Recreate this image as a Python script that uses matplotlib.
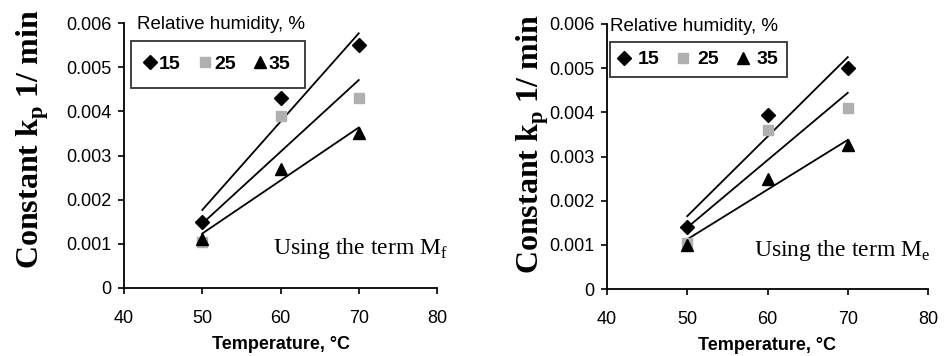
import numpy as np
import matplotlib
matplotlib.use('Agg')
from matplotlib import pyplot as plt

# data
temps = [50, 60, 70]
humidity = ['15', '25', '35']
kp_mf = {'15': [0.0015, 0.0043, 0.0055],
         '25': [0.00105, 0.0039, 0.0043],
         '35': [0.0011, 0.0027, 0.0035]}
kp_me = {'15': [0.0014, 0.00395, 0.0050],
         '25': [0.00105, 0.0036, 0.0041],
         '35': [0.0010, 0.0025, 0.00325]}
xticks = [40, 50, 60, 70, 80]
yticks = [0, 0.001, 0.002, 0.003, 0.004, 0.005, 0.006]
ytick_labels = ['0', '0.001', '0.002', '0.003', '0.004', '0.005', '0.006']

markers = {'15': 'D', '25': 's', '35': '^'}
mcolors = {'15': 'black', '25': '#b0b0b0', '35': 'black'}
msizes = {'15': 7, '25': 7, '35': 8}

sans = 'Liberation Sans'
serif = 'Liberation Serif'

fig = plt.figure(figsize=(9.44, 3.56), dpi=100)
W, H = 944.0, 356.0
# axes boxes in pixels: left, top, right, bottom
boxes = [(124, 23, 437, 288), (607, 24, 928, 289)]
panels = [(kp_mf, 'f'), (kp_me, 'e')]


def draw_panel(ax, data, sub, leg_box, colsp, tpad, bpad, title_xy, note_xy, ylab_xy):
    for h in humidity:
        y = data[h]
        ax.plot(temps, y, linestyle='none', marker=markers[h], color=mcolors[h],
                markersize=msizes[h], label=h, zorder=3)
        # linear trend line
        p = np.polyfit(temps, y, 1)
        xx = np.array([temps[0], temps[-1]])
        ax.plot(xx, np.polyval(p, xx), color='black', lw=1.3, zorder=2)

    ax.set_xlim(40, 80)
    ax.set_ylim(0, 0.006)
    ax.set_xticks(xticks)
    ax.set_yticks(yticks)
    ax.set_yticklabels(ytick_labels)
    ax.spines['top'].set_visible(False)
    ax.spines['right'].set_visible(False)
    ax.spines['left'].set_linewidth(1.3)
    ax.spines['bottom'].set_linewidth(1.3)
    ax.tick_params(direction='out', length=4, width=1.2, labelsize=13)
    for t in ax.get_xticklabels() + ax.get_yticklabels():
        t.set_fontfamily(sans)
    ax.tick_params(axis='x', pad=12)
    ax.tick_params(axis='y', pad=5)

    ax.set_xlabel('Temperature, \u00b0C', fontfamily=sans, fontweight='bold',
                  fontsize=13, labelpad=6)
    yl = ax.set_ylabel(r'Constant k$_\mathregular{p}$ 1/ min', fontfamily=serif,
                       fontweight='bold', fontsize=23)
    yl.set_va('center')
    ax.yaxis.set_label_coords(ylab_xy[0], ylab_xy[1])

    leg = ax.legend(loc='upper left', bbox_to_anchor=leg_box, ncol=3,
                    frameon=True, fancybox=False, handlelength=0.5,
                    handletextpad=tpad, columnspacing=colsp, borderpad=bpad,
                    borderaxespad=0,
                    prop={'family': sans, 'weight': 'bold', 'size': 14})
    leg.get_frame().set_edgecolor('black')
    leg.get_frame().set_linewidth(1.3)

    ax.text(title_xy[0], title_xy[1], 'Relative humidity, %', transform=ax.transAxes,
            fontfamily=sans, fontsize=13.5, ha='left', va='center')
    ax.text(note_xy[0], note_xy[1], 'Using the term M$_\\mathregular{' + sub + '}$',
            transform=ax.transAxes, fontfamily=serif, fontsize=17,
            ha='left', va='center')


legs = [(0.022, 0.932), (0.01, 0.932)]
colsps = [1.0, 1.0]
tpads = [0.2, 0.45]
bpads = [0.75, 0.45]
titles = [(0.042, 0.995), (0.01, 0.99)]
notes = [(0.476, 0.15), (0.458, 0.147)]
ylabs = [(-0.29, 0.56), (-0.23, 0.545)]
for (l, t, r, b), (data, sub), lb, cs, tp, bp, tt, nn, yy in zip(
        boxes, panels, legs, colsps, tpads, bpads, titles, notes, ylabs):
    ax = fig.add_axes([l / W, 1 - b / H, (r - l) / W, (b - t) / H])
    draw_panel(ax, data, sub, lb, cs, tp, bp, tt, nn, yy)

fig.savefig('out.png', dpi=100)
